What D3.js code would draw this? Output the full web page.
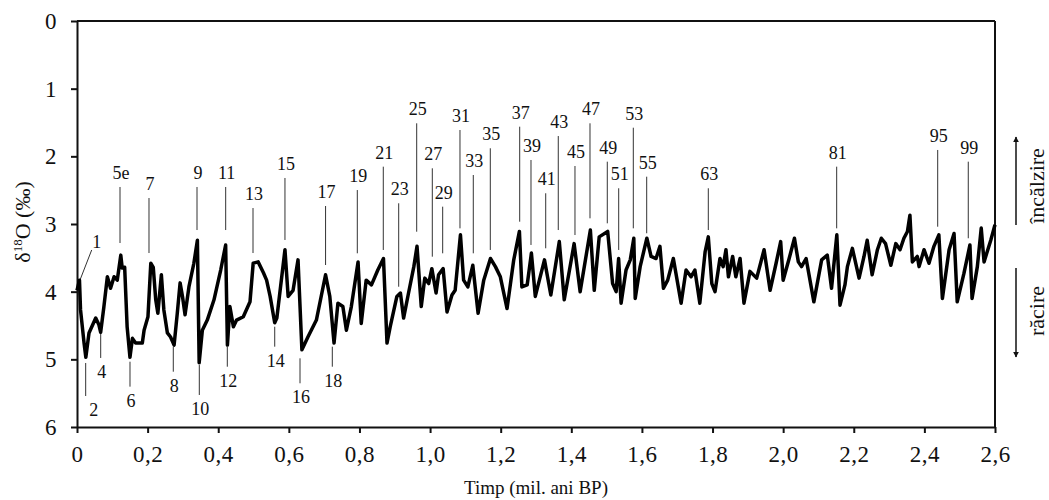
<!DOCTYPE html>
<head>
<meta charset="utf-8">
<style>
body { margin: 0; background: #fff; }
svg text { font-family: "Liberation Serif", serif; fill: #111; }
.curve { fill: none; stroke: #000; stroke-width: 3.5; stroke-linejoin: round; }
.stage line { stroke: #333; stroke-width: 1; }
.stage text { font-size: 18px; text-anchor: middle; }
.axis path, .axis line { stroke: #111; stroke-width: 2; }
.axis text { font-size: 23px; font-family: "Liberation Serif", serif; fill: #111; letter-spacing: 0.5px; }
.frame { stroke: #111; stroke-width: 2; }
.arrow { stroke: #111; stroke-width: 1.5; }
</style>
</head>
<body>

<svg width="1049" height="500"></svg>
<script src="https://cdn.jsdelivr.net/npm/d3@7"></script>
<script>

// curve: age (mil. ani BP) and delta18O (permil)
var ages = [0, 0.007, 0.010, 0.020, 0.025, 0.034, 0.053, 0.062, 0.067, 0.076, 0.086, 0.095, 0.105, 0.114, 0.124, 0.128, 0.135, 0.142, 0.150, 0.157,
  0.166, 0.185, 0.190, 0.201, 0.209, 0.216, 0.223, 0.229, 0.239, 0.246, 0.256, 0.265, 0.275, 0.284, 0.292, 0.299, 0.306, 0.317, 0.331, 0.341,
  0.346, 0.355, 0.369, 0.388, 0.407, 0.421, 0.426, 0.433, 0.443, 0.452, 0.471, 0.490, 0.499, 0.513, 0.528, 0.537, 0.547, 0.560, 0.566, 0.589,
  0.598, 0.612, 0.626, 0.637, 0.654, 0.678, 0.704, 0.716, 0.728, 0.739, 0.753, 0.763, 0.777, 0.796, 0.805, 0.819, 0.834, 0.852, 0.868, 0.878,
  0.887, 0.906, 0.916, 0.925, 0.939, 0.954, 0.963, 0.975, 0.985, 0.996, 1.005, 1.017, 1.024, 1.037, 1.048, 1.062, 1.071, 1.086, 1.095, 1.107,
  1.121, 1.136, 1.152, 1.171, 1.185, 1.199, 1.218, 1.237, 1.253, 1.260, 1.275, 1.287, 1.298, 1.324, 1.342, 1.366, 1.380, 1.408, 1.425, 1.454,
  1.465, 1.479, 1.503, 1.517, 1.527, 1.534, 1.541, 1.555, 1.567, 1.577, 1.581, 1.595, 1.614, 1.626, 1.640, 1.651, 1.661, 1.673, 1.689, 1.711,
  1.725, 1.739, 1.750, 1.764, 1.779, 1.788, 1.798, 1.807, 1.821, 1.830, 1.838, 1.845, 1.857, 1.866, 1.878, 1.889, 1.906, 1.925, 1.946, 1.963,
  1.980, 1.993, 2.000, 2.017, 2.032, 2.043, 2.052, 2.065, 2.087, 2.109, 2.125, 2.137, 2.152, 2.161, 2.175, 2.182, 2.196, 2.215, 2.229, 2.238,
  2.252, 2.267, 2.278, 2.290, 2.305, 2.319, 2.331, 2.342, 2.352, 2.359, 2.366, 2.380, 2.385, 2.399, 2.413, 2.427, 2.441, 2.451, 2.470, 2.484,
  2.493, 2.512, 2.529, 2.535, 2.550, 2.561, 2.569, 2.588, 2.600];
var d18O = [3.98, 3.83, 4.27, 4.76, 4.97, 4.61, 4.39, 4.49, 4.60, 4.23, 3.78, 3.95, 3.78, 3.83, 3.46, 3.65, 3.64, 4.52, 4.97, 4.69,
  4.76, 4.76, 4.57, 4.37, 3.58, 3.64, 4.12, 4.32, 3.75, 4.27, 4.61, 4.67, 4.79, 4.32, 3.87, 4.08, 4.34, 3.93, 3.58, 3.24,
  5.05, 4.57, 4.42, 4.12, 3.68, 3.31, 4.79, 4.22, 4.52, 4.42, 4.37, 4.15, 3.58, 3.56, 3.72, 3.83, 4.07, 4.46, 4.39, 3.38,
  4.07, 3.98, 3.53, 4.86, 4.67, 4.42, 3.75, 4.07, 4.76, 4.17, 4.22, 4.57, 4.22, 3.56, 4.47, 3.83, 3.90, 3.68, 3.51, 4.76,
  4.52, 4.07, 4.02, 4.39, 4.02, 3.63, 3.33, 4.22, 3.80, 3.88, 3.66, 4.02, 3.75, 3.66, 4.30, 4.05, 3.98, 3.16, 3.83, 3.93,
  3.61, 4.32, 3.83, 3.51, 3.63, 3.78, 4.25, 3.53, 3.11, 3.93, 3.90, 3.43, 4.07, 3.53, 4.05, 3.26, 4.12, 3.29, 4.00, 3.09,
  3.98, 3.19, 3.11, 3.88, 4.00, 3.51, 4.17, 3.68, 3.53, 3.21, 4.10, 3.63, 3.21, 3.48, 3.51, 3.33, 3.95, 3.83, 3.51, 4.17,
  3.68, 3.78, 3.68, 4.17, 3.41, 3.19, 3.88, 4.00, 3.51, 3.63, 3.38, 3.78, 3.48, 3.78, 3.51, 4.17, 3.70, 3.80, 3.38, 3.98,
  3.58, 3.26, 3.83, 3.51, 3.21, 3.56, 3.63, 3.51, 4.15, 3.53, 3.46, 3.95, 3.16, 4.20, 3.90, 3.63, 3.36, 3.80, 3.48, 3.24,
  3.75, 3.38, 3.21, 3.29, 3.61, 3.29, 3.38, 3.21, 3.11, 2.87, 3.56, 3.48, 3.63, 3.38, 3.58, 3.33, 3.16, 4.10, 3.38, 3.14,
  4.15, 3.73, 3.31, 4.10, 3.63, 3.06, 3.56, 3.24, 3.01];

// marine isotope stage labels: name, age, line from / to (permil)
var stageNames = ["5e", "7", "9", "11", "13", "15", "17", "19", "21", "23", "25", "27", "29", "31", "33", "35", "37", "39", "41", "43",
  "45", "47", "49", "51", "53", "55", "63", "81", "95", "99", "2", "4", "6", "8", "10", "12", "14", "16", "18"];
var stageAges = [0.1218, 0.2039, 0.3399, 0.4211, 0.4985, 0.589, 0.704, 0.7939, 0.8675, 0.9111, 0.9621, 1.0063, 1.0357, 1.0847, 1.1224, 1.1706, 1.2538, 1.2858, 1.3275, 1.3631,
  1.4104, 1.4529, 1.5019, 1.5342, 1.5756, 1.6135, 1.788, 2.1516, 2.4377, 2.5243, 0.0246, 0.0671, 0.1501, 0.2727, 0.3464, 0.4257, 0.560, 0.6316, 0.7231];
var stageFrom = [2.453, 2.616, 2.453, 2.453, 2.764, 2.320, 2.734, 2.498, 2.153, 2.694, 1.512, 2.177, 2.744, 1.611, 2.276, 1.881, 1.562, 2.054, 2.546, 1.700,
  2.143, 1.512, 2.079, 2.472, 1.577, 2.301, 2.472, 2.153, 1.906, 2.079, 5.054, 4.611, 5.035, 4.813, 5.084, 4.813, 4.518, 4.985, 4.813];
var stageTo = [3.281, 3.429, 3.089, 3.089, 3.429, 3.236, 3.606, 3.433, 3.384, 3.927, 3.114, 3.483, 3.433, 3.064, 3.433, 3.384, 2.966, 3.310, 3.359, 3.089,
  3.163, 2.916, 2.990, 3.384, 3.064, 3.137, 3.089, 3.064, 3.040, 3.211, 5.542, 4.980, 5.404, 5.183, 5.527, 5.109, 4.813, 5.354, 5.109];

// stage 1 has a slanted pointer
var stage1From = [0.0416, 3.384], stage1To = [0.0085, 3.828];

var xTicks = [0, 0.2, 0.4, 0.6, 0.8, 1.0, 1.2, 1.4, 1.6, 1.8, 2.0, 2.2, 2.4, 2.6];
var yTicks = [0, 1, 2, 3, 4, 5, 6];

var svg = d3.select("svg"),
    margin = {top: 21, left: 77},
    width = 918,
    height = 406;

var x = d3.scaleLinear().domain([0, 2.6]).range([margin.left, margin.left + width]);
var y = d3.scaleLinear().domain([0, 6]).range([margin.top, margin.top + height]);

function fmt(d) { return d === 0 ? "0" : d3.format(".1f")(d).replace(".", ","); }

// frame top and right
svg.append("line").attr("class", "frame")
    .attr("x1", x(0)).attr("x2", x(2.6)).attr("y1", y(0)).attr("y2", y(0));
svg.append("line").attr("class", "frame")
    .attr("x1", x(2.6)).attr("x2", x(2.6)).attr("y1", y(0)).attr("y2", y(6));

svg.append("g").attr("class", "axis")
    .attr("transform", "translate(0," + y(6) + ")")
    .call(d3.axisBottom(x).tickValues(xTicks).tickFormat(fmt).tickSize(6).tickSizeOuter(0).tickPadding(13));

svg.append("g").attr("class", "axis")
    .attr("transform", "translate(" + x(0) + ",0)")
    .call(d3.axisLeft(y).tickValues(yTicks).tickFormat(d3.format("d")).tickSize(6).tickSizeOuter(0).tickPadding(14));

// stage pointer lines and labels
var stage = svg.append("g").attr("class", "stage")
  .selectAll("g")
  .data(stageNames.map(function(n, i) { return {name: n, age: stageAges[i], from: stageFrom[i], to: stageTo[i]}; }))
  .enter().append("g");

stage.append("line")
    .attr("x1", function(d) { return x(d.age); })
    .attr("x2", function(d) { return x(d.age); })
    .attr("y1", function(d) { return y(d.from); })
    .attr("y2", function(d) { return y(d.to); });

stage.append("text")
    .attr("x", function(d) { return x(d.age) + (d.name === "2" ? 8 : 1); })
    .attr("y", function(d) { return (+d.name % 2 === 0) ? y(d.to) + 20 : y(d.from) - 8; })
    .text(function(d) { return d.name; });

var s1 = svg.append("g").attr("class", "stage");
s1.append("line")
    .attr("x1", x(stage1From[0])).attr("y1", y(stage1From[1]))
    .attr("x2", x(stage1To[0])).attr("y2", y(stage1To[1]));
s1.append("text")
    .attr("x", x(stage1From[0]) + 5).attr("y", y(stage1From[1]) - 2)
    .text("1");

// isotope curve
var line = d3.line()
    .x(function(d) { return x(d[0]); })
    .y(function(d) { return y(d[1]); });

svg.append("path")
    .datum(ages.map(function(a, i) { return [a, d18O[i]]; }))
    .attr("class", "curve")
    .attr("d", line);

// axis titles
svg.append("text")
    .attr("x", 536).attr("y", 494)
    .attr("text-anchor", "middle")
    .style("font-size", "19px")
    .text("Timp (mil. ani BP)");

var yt = svg.append("text")
    .attr("transform", "translate(30,222) rotate(-90)")
    .attr("text-anchor", "middle")
    .style("font-size", "22px");
yt.append("tspan").text("δ");
yt.append("tspan").attr("dy", -8).style("font-size", "13px").text("18");
yt.append("tspan").attr("dy", 8).text("O (‰)");

// warming / cooling arrows
svg.append("defs").append("marker")
    .attr("id", "head")
    .attr("viewBox", "0 0 10 10")
    .attr("refX", 9).attr("refY", 5)
    .attr("markerWidth", 6).attr("markerHeight", 8)
    .attr("markerUnits", "userSpaceOnUse")
    .attr("orient", "auto")
  .append("path")
    .attr("d", "M0,0L10,5L0,10Z")
    .attr("fill", "#111");

svg.append("line").attr("class", "arrow")
    .attr("x1", 1016).attr("x2", 1016).attr("y1", 225).attr("y2", 137)
    .attr("marker-end", "url(#head)");
svg.append("line").attr("class", "arrow")
    .attr("x1", 1016).attr("x2", 1016).attr("y1", 268).attr("y2", 357)
    .attr("marker-end", "url(#head)");

svg.append("text")
    .attr("transform", "translate(1044,186) rotate(-90)")
    .attr("text-anchor", "middle")
    .style("font-size", "22px")
    .text("încălzire");
svg.append("text")
    .attr("transform", "translate(1044,311) rotate(-90)")
    .attr("text-anchor", "middle")
    .style("font-size", "22px")
    .text("răcire");

</script>
</body>
